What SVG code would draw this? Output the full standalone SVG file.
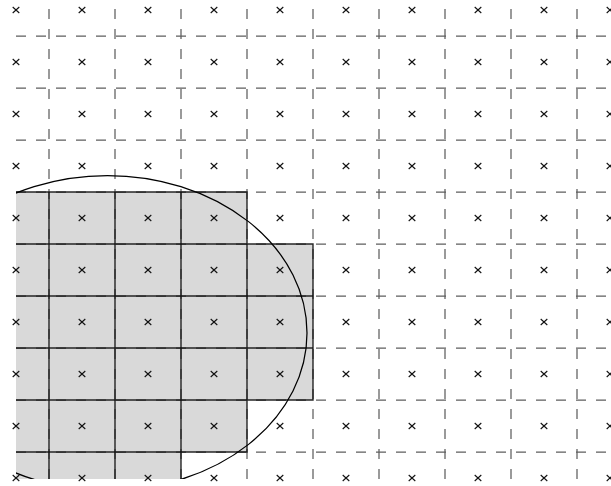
<svg xmlns="http://www.w3.org/2000/svg" xmlns:xlink="http://www.w3.org/1999/xlink" width="611" height="486" viewBox="0 0 611 486">
<style>
.cell{fill:#d9d9d9;stroke:none}
.edge{fill:none;stroke:#111;stroke-width:1.4;stroke-opacity:0.9}
.grid{fill:none;stroke:#5e5e5e;stroke-width:1.25;stroke-dasharray:10 10}
.mark{fill:none;stroke:#111;stroke-width:1.1}
.shape{fill:none;stroke:#000;stroke-width:1.25}
</style>
<defs>
<clipPath id="plot"><rect x="16" y="-20" width="620" height="499"/></clipPath>
<path id="x" class="mark" d="M-3.3,-3 L3.3,3 M-3.3,3 L3.3,-3"/>
<g id="xrow">
<use xlink:href="#x" x="16"/><use xlink:href="#x" x="82"/><use xlink:href="#x" x="148"/><use xlink:href="#x" x="214"/><use xlink:href="#x" x="280"/><use xlink:href="#x" x="346"/><use xlink:href="#x" x="412"/><use xlink:href="#x" x="478"/><use xlink:href="#x" x="544"/><use xlink:href="#x" x="610"/>
</g>
</defs>
<rect x="0" y="0" width="611" height="486" fill="#ffffff"/>
<g clip-path="url(#plot)">
<g id="cells-fill">
<rect class="cell" x="-17" y="192" width="264" height="52"/>
<rect class="cell" x="-17" y="244" width="330" height="156"/>
<rect class="cell" x="-17" y="400" width="264" height="52"/>
<rect class="cell" x="-17" y="452" width="198" height="52"/>
</g>
<g id="grid">
<path class="grid" d="M16,36H611M16,88H611M16,140H611M16,192H611M16,244H611M16,296H611M16,348H611M16,400H611M16,452H611"/>
<path class="grid" d="M49,479V0M115,479V0M181,479V0M247,479V0M313,479V0M379,479V0M445,479V0M511,479V0M577,479V0"/>
</g>
<g id="cells-edge">
<path class="edge" d="M-17,192H247V244H313V400H247V452H181V504"/>
<path class="edge" d="M-17,244H247M-17,296H313M-17,348H313M-17,400H247M-17,452H181"/>
<path class="edge" d="M49,192V504M115,192V504M181,192V452M247,244V400"/>
</g>
<ellipse id="region" class="shape" cx="107.5" cy="333" rx="199.5" ry="157.5"/>
</g>
<g id="markers">
<use xlink:href="#xrow" y="10"/><use xlink:href="#xrow" y="62"/><use xlink:href="#xrow" y="114"/><use xlink:href="#xrow" y="166"/><use xlink:href="#xrow" y="218"/><use xlink:href="#xrow" y="270"/><use xlink:href="#xrow" y="322"/><use xlink:href="#xrow" y="374"/><use xlink:href="#xrow" y="426"/><use xlink:href="#xrow" y="478"/>
</g>
</svg>
